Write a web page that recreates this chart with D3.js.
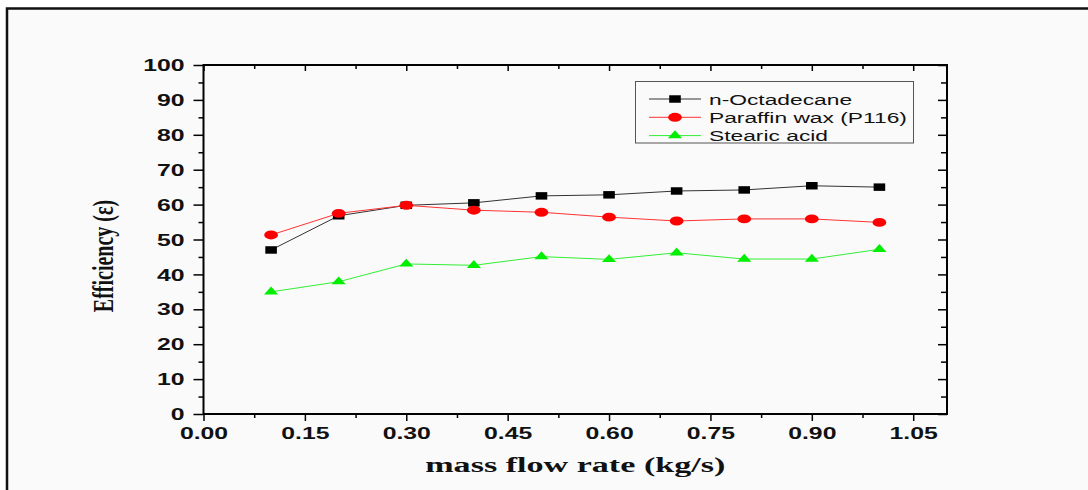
<!DOCTYPE html>
<html>
<head>
<meta charset="utf-8">
<script src="https://cdn.jsdelivr.net/npm/d3@7"></script>
<style>
  body { margin: 0; background: #fff; }
  svg { display: block; }
</style>
</head>
<body>
<svg id="chart" width="1088" height="490"></svg>
<script>
// データ
const flowRates = [0.1, 0.2, 0.3, 0.4, 0.5, 0.6, 0.7, 0.8, 0.9, 1.0];
const octadecane = [47.0, 56.8, 59.8, 60.5, 62.5, 62.8, 63.9, 64.2, 65.4, 65.0];
const paraffin = [51.3, 57.5, 59.8, 58.4, 57.8, 56.4, 55.3, 55.9, 55.9, 54.9];
const stearic = [35.0, 37.9, 43.0, 42.6, 45.1, 44.3, 46.2, 44.4, 44.4, 47.2];
const seriesNames = ["n-Octadecane", "Paraffin wax (P116)", "Stearic acid"];
const xTicks = [0, 0.15, 0.30, 0.45, 0.60, 0.75, 0.90, 1.05];
const yTicks = [0, 10, 20, 30, 40, 50, 60, 70, 80, 90, 100];

const SX = 1.55; // 横に引き伸ばされた見た目
const svg = d3.select("#chart");

// 背景と外枠
svg.append("rect").attr("x", 7).attr("y", 8).attr("width", 1081).attr("height", 482).attr("fill", "#fafafa");
svg.append("path").attr("d", "M7,490 V8.5 H1088").attr("fill", "none").attr("stroke", "#111").attr("stroke-width", 2.5);

const pLeft = 203.5, pRight = 947, pTop = 65, pBottom = 414;
const x = d3.scaleLinear().domain([0, 1.1]).range([pLeft, pRight]);
const y = d3.scaleLinear().domain([0, 100]).range([pBottom, pTop]);

const minorX = d3.range(0.075, 1.1, 0.15);
const minorY = d3.range(5, 100, 10);

function styleAxis(g) {
  g.select(".domain").remove();
  g.selectAll("line").attr("stroke", "#000").attr("stroke-width", 1.5);
}

// 下の軸
const gx = svg.append("g").attr("transform", `translate(0,${pBottom})`)
  .call(d3.axisBottom(x).tickValues(xTicks).tickSize(7).tickFormat(d3.format(".2f")))
  .call(styleAxis);
gx.selectAll("text")
  .attr("y", 25).attr("dy", null)
  .attr("transform", `scale(${SX},1)`)
  .attr("font-family", "'Liberation Sans', Arial, sans-serif")
  .attr("font-weight", "bold").attr("font-size", 16).attr("fill", "#111");
svg.append("g").attr("transform", `translate(0,${pBottom})`)
  .call(d3.axisBottom(x).tickValues(minorX).tickSize(4).tickFormat(""))
  .call(styleAxis);

// 上の軸（内向き）
svg.append("g").attr("transform", `translate(0,${pTop})`)
  .call(d3.axisTop(x).tickValues(xTicks).tickSize(-6).tickFormat(""))
  .call(styleAxis);
svg.append("g").attr("transform", `translate(0,${pTop})`)
  .call(d3.axisTop(x).tickValues(minorX).tickSize(-4).tickFormat(""))
  .call(styleAxis);

// 左の軸
const gy = svg.append("g").attr("transform", `translate(${pLeft},0)`)
  .call(d3.axisLeft(y).tickValues(yTicks).tickSize(10))
  .call(styleAxis);
gy.selectAll("text")
  .attr("x", 0).attr("dy", "0.35em")
  .attr("transform", `translate(-19,0) scale(${SX},1)`)
  .attr("font-family", "'Liberation Sans', Arial, sans-serif")
  .attr("font-weight", "bold").attr("font-size", 16).attr("fill", "#111");
svg.append("g").attr("transform", `translate(${pLeft},0)`)
  .call(d3.axisLeft(y).tickValues(minorY).tickSize(5).tickFormat(""))
  .call(styleAxis);

// 右の軸（内向き）
svg.append("g").attr("transform", `translate(${pRight},0)`)
  .call(d3.axisRight(y).tickValues(yTicks).tickSize(-9).tickFormat(""))
  .call(styleAxis);
svg.append("g").attr("transform", `translate(${pRight},0)`)
  .call(d3.axisRight(y).tickValues(minorY).tickSize(-6).tickFormat(""))
  .call(styleAxis);

// 枠線
svg.append("rect")
  .attr("x", pLeft).attr("y", pTop)
  .attr("width", pRight - pLeft).attr("height", pBottom - pTop)
  .attr("fill", "none").attr("stroke", "#000").attr("stroke-width", 2);

// 系列
const series = [
  { name: seriesNames[0], values: octadecane, color: "#000", line: "#333", symbol: d3.symbolSquare, size: 56 },
  { name: seriesNames[1], values: paraffin, color: "#ff0000", line: "#ff3333", symbol: d3.symbolCircle, size: 62 },
  { name: seriesNames[2], values: stearic, color: "#00ee00", line: "#33ee33", symbol: d3.symbolTriangle, size: 36 }
];

const line = d3.line().x((d, i) => x(flowRates[i])).y(d => y(d));

series.forEach(s => {
  svg.append("path")
    .attr("d", line(s.values))
    .attr("fill", "none")
    .attr("stroke", s.line)
    .attr("stroke-width", 1);

  svg.selectAll(null)
    .data(s.values)
    .enter()
    .append("path")
    .attr("d", d3.symbol().type(s.symbol).size(s.size))
    .attr("transform", (d, i) => `translate(${x(flowRates[i])},${y(d)}) scale(${SX},1)`)
    .attr("fill", s.color);
});

// 凡例
svg.append("rect")
  .attr("x", 635.5).attr("y", 81.5).attr("width", 278).attr("height", 61.5)
  .attr("fill", "none").attr("stroke", "#555").attr("stroke-width", 1);

series.forEach((s, i) => {
  const ly = 99 + i * 18.3;
  svg.append("line")
    .attr("x1", 649).attr("x2", 701).attr("y1", ly).attr("y2", ly)
    .attr("stroke", s.line).attr("stroke-width", 1);
  svg.append("path")
    .attr("d", d3.symbol().type(s.symbol).size(s.size))
    .attr("transform", `translate(675,${ly}) scale(${SX},1)`)
    .attr("fill", s.color);
  svg.append("text")
    .attr("transform", `translate(709,${ly + 5.5}) scale(1.52,1)`)
    .attr("font-family", "'Liberation Sans', Arial, sans-serif")
    .attr("font-size", 15)
    .attr("fill", "#111")
    .text(s.name);
});

// 軸タイトル
svg.append("text")
  .attr("transform", `translate(${(pLeft + pRight) / 2},472) scale(${SX},1)`)
  .attr("text-anchor", "middle")
  .attr("font-family", "'Liberation Serif', 'Times New Roman', serif")
  .attr("font-weight", "bold")
  .attr("font-size", 22)
  .attr("fill", "#111")
  .text("mass flow rate (kg/s)");

svg.append("text")
  .attr("transform", `translate(113,256) scale(1.5,1) rotate(-90)`)
  .attr("text-anchor", "middle")
  .attr("font-family", "'Liberation Serif', 'Times New Roman', serif")
  .attr("font-weight", "bold")
  .attr("font-size", 20)
  .attr("fill", "#111")
  .text("Efficiency (ε)");
</script>
</body>
</html>
